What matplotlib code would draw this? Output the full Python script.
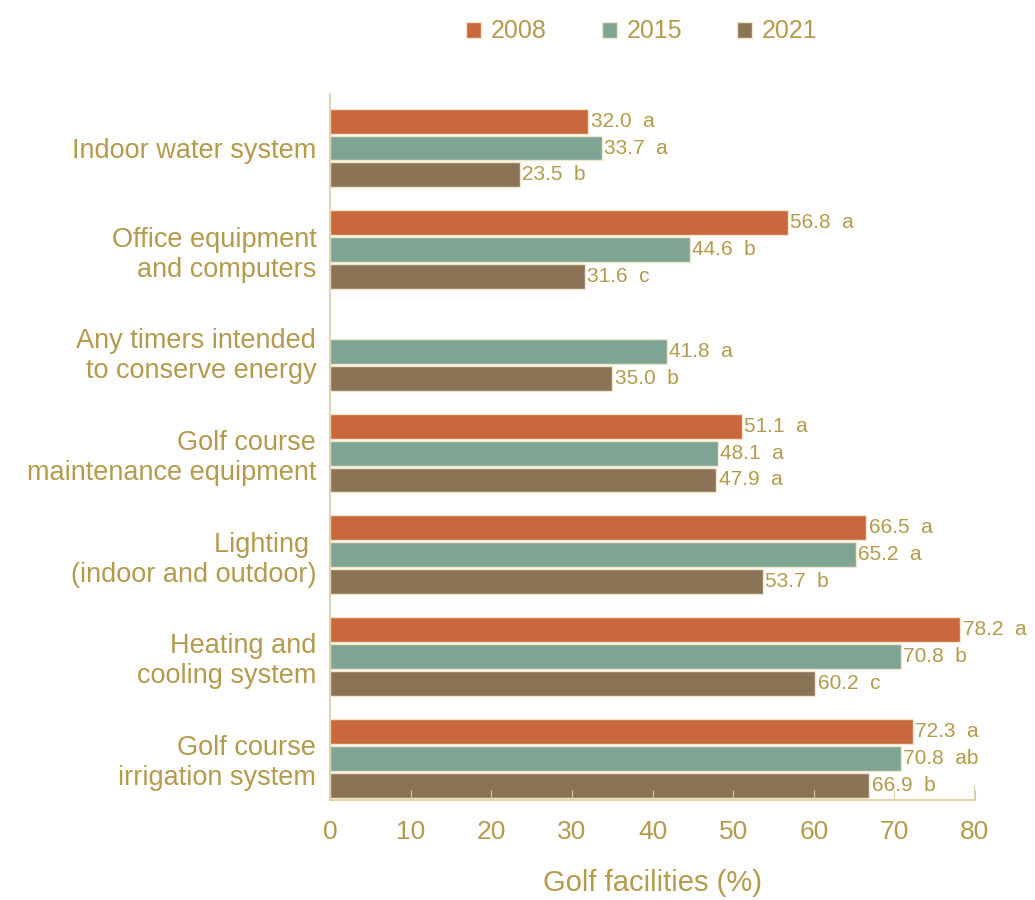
import matplotlib.pyplot as plt
import numpy as np
from matplotlib import font_manager

# data
categories = ['Indoor water system',
              'Office equipment\nand computers',
              'Any timers intended\nto conserve energy',
              'Golf course\nmaintenance equipment',
              'Lighting \n(indoor and outdoor)',
              'Heating and\ncooling system',
              'Golf course\nirrigation system']
years = ['2008', '2015', '2021']
v2008 = [32.0, 56.8, np.nan, 51.1, 66.5, 78.2, 72.3]
v2015 = [33.7, 44.6, 41.8, 48.1, 65.2, 70.8, 70.8]
v2021 = [23.5, 31.6, 35.0, 47.9, 53.7, 60.2, 66.9]
l2008 = ['a', 'a', '', 'a', 'a', 'a', 'a']
l2015 = ['a', 'b', 'a', 'a', 'a', 'b', 'ab']
l2021 = ['b', 'c', 'b', 'a', 'b', 'c', 'b']

colors = ['#C8683C', '#7EA594', '#8B7455']
txt = '#B39A4C'
spine = '#DCCB9C'

names = {f.name for f in font_manager.fontManager.ttflist}
fam = 'Liberation Sans Narrow' if 'Liberation Sans Narrow' in names else 'Liberation Sans'
plt.rcParams['font.family'] = [fam, 'DejaVu Sans']

fig = plt.figure(figsize=(10.35, 9), dpi=100)
ax = fig.add_axes([0.319, 0.111, 0.623, 0.785])

y = np.arange(len(categories))
step = 0.265
h = 0.245
series = [(v2008, l2008), (v2015, l2015), (v2021, l2021)]
for k, (vals, labs) in enumerate(series):
    pos = y + (k - 1) * step
    ax.barh(pos, vals, height=h, color=colors[k], edgecolor='#F1E6CC',
            linewidth=1.0, label=years[k])
    for p, v, l in zip(pos, vals, labs):
        if np.isnan(v):
            continue
        ax.text(v + 0.3, p, f'{v:.1f}  {l}', va='center', ha='left',
                fontsize=15, color=txt)

ax.set_ylim(len(categories) - 1 + 0.413, -0.535)
ax.set_xlim(0, 80)
ax.set_yticks(y)
ax.set_yticklabels(categories, fontsize=19.5, color=txt, ha='right',
                   multialignment='right')
ax.set_xticks(np.arange(0, 81, 10))
ax.tick_params(axis='x', direction='in', length=7, color=spine,
               labelsize=19, labelcolor=txt, pad=14)
ax.tick_params(axis='y', length=0, pad=10)
for s in ['top', 'right']:
    ax.spines[s].set_visible(False)
ax.spines['left'].set_color(spine)
ax.spines['bottom'].set_color(spine)
ax.spines['left'].set_linewidth(1.2)
ax.spines['bottom'].set_linewidth(1.2)
ax.axvline(80, ymin=0, ymax=0.02, color=spine, lw=1.2)

ax.set_xlabel('Golf facilities (%)', fontsize=21, color=txt, labelpad=18)

leg = fig.legend(loc='center', bbox_to_anchor=(0.62, 0.965), ncol=3,
                 frameon=False, fontsize=18, handlelength=0.6,
                 handleheight=0.6, handletextpad=0.4, columnspacing=2.2)
for t in leg.get_texts():
    t.set_color(txt)

fig.savefig('out.png', dpi=100, facecolor='white')
